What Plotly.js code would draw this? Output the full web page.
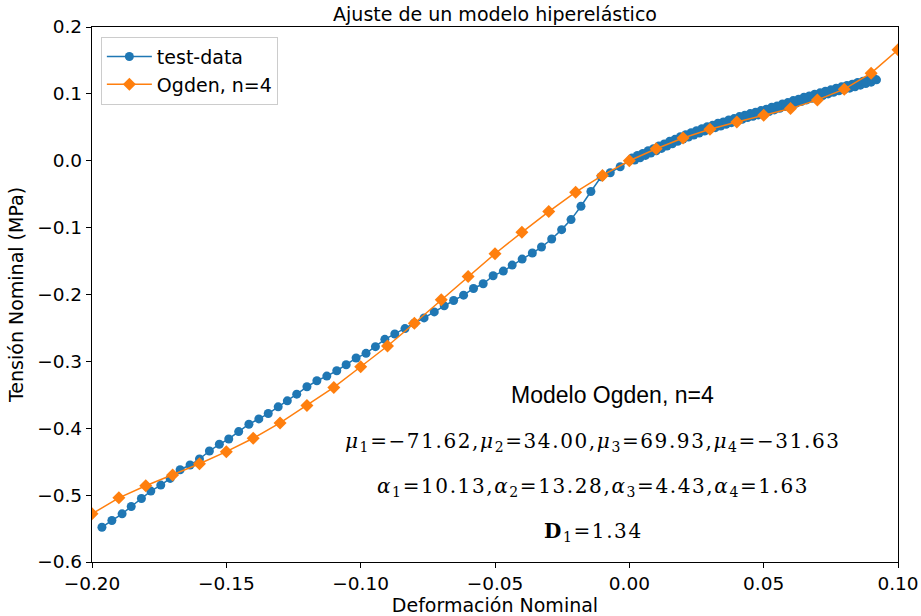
<!DOCTYPE html>
<html>
<head>
<meta charset="utf-8">
<script src="https://cdn.plot.ly/plotly-3.0.1.min.js"></script>
<style>html,body{margin:0;padding:0;background:#fff;}#chart{width:921px;height:616px;}</style>
</head>
<body>
<div id="chart"></div>
<script>
// test-data: compression branch (ascending strain)
const testCompX = [-0.1963,-0.1926,-0.1888,-0.1854,-0.1816,-0.1781,-0.1744,-0.1709,-0.1672,-0.1635,
  -0.1600,-0.1563,-0.1526,-0.1491,-0.1454,-0.1416,-0.1379,-0.1344,-0.1307,-0.1273,
  -0.1238,-0.1200,-0.1163,-0.1126,-0.1089,-0.1054,-0.1017,-0.0980,-0.0945,-0.0910,
  -0.0873,-0.0835,-0.0801,-0.0764,-0.0726,-0.0689,-0.0654,-0.0617,-0.0580,-0.0544,
  -0.0507,-0.0469,-0.0436,-0.0399,-0.0361,-0.0327,-0.0289,-0.0252,-0.0217,-0.0180,
  -0.0143,-0.0105,-0.0071,-0.0034,0.0004];
const testCompY = [-0.548,-0.538,-0.528,-0.517,-0.505,-0.494,-0.485,-0.475,-0.462,-0.455,
  -0.446,-0.434,-0.424,-0.416,-0.405,-0.394,-0.386,-0.378,-0.368,-0.359,
  -0.349,-0.338,-0.329,-0.322,-0.314,-0.305,-0.295,-0.288,-0.278,-0.267,
  -0.259,-0.251,-0.243,-0.235,-0.226,-0.217,-0.209,-0.201,-0.191,-0.184,
  -0.172,-0.165,-0.156,-0.147,-0.138,-0.129,-0.117,-0.103,-0.088,-0.068,
  -0.046,-0.024,-0.018,-0.009,0.001];
// test-data: tension loading
const testLoadX = [0.002,0.004,0.006,0.008,0.010,0.012,0.014,0.016,0.018,0.020,0.022,0.024,
  0.026,0.028,0.030,0.032,0.034,0.036,0.038,0.040,0.042,0.044,0.046,0.048,0.050,0.052,
  0.054,0.056,0.058,0.060,0.062,0.064,0.066,0.068,0.070,0.072,0.074,0.076,0.078,0.080,
  0.082,0.084,0.086,0.088,0.090,0.092];
const testLoadY = [0.001,0.0045,0.008,0.0115,0.015,0.0185,0.022,0.0255,0.029,0.0325,0.0355,0.0385,
  0.0415,0.0445,0.047,0.0495,0.052,0.0545,0.057,0.0595,0.062,0.0645,0.0665,0.0685,0.071,0.0735,
  0.076,0.0785,0.081,0.0835,0.086,0.0885,0.091,0.0935,0.0955,0.0975,0.100,0.1025,0.1045,0.1065,
  0.1085,0.1105,0.113,0.1155,0.1175,0.121];
// test-data: tension unloading
const testUnloadX = [0.091,0.089,0.087,0.085,0.083,0.081,0.079,0.077,0.075,0.073,0.071,0.069,
  0.067,0.065,0.063,0.061,0.059,0.057,0.055,0.053,0.051,0.049,0.047,0.045,0.043,0.041,
  0.039,0.037,0.035,0.033,0.031,0.029,0.027,0.025,0.023,0.021,0.019,0.017,0.015,0.013,
  0.011,0.009,0.007,0.005,0.003,0.001];
const testUnloadY = [0.1235,0.1215,0.119,0.117,0.1145,0.1125,0.1105,0.1085,0.106,0.104,0.1015,0.0995,
  0.097,0.095,0.092,0.090,0.087,0.085,0.082,0.080,0.077,0.075,0.0725,0.0705,0.068,0.066,
  0.063,0.061,0.058,0.056,0.053,0.051,0.048,0.045,0.042,0.039,0.036,0.032,0.029,0.025,
  0.022,0.018,0.015,0.011,0.008,0.004];

// Ogden n=4 fit
const ogdenX = [-0.20,-0.19,-0.18,-0.17,-0.16,-0.15,-0.14,-0.13,-0.12,-0.11,-0.10,
  -0.09,-0.08,-0.07,-0.06,-0.05,-0.04,-0.03,-0.02,-0.01,0.00,
  0.01,0.02,0.03,0.04,0.05,0.06,0.07,0.08,0.09,0.10];
const ogdenY = [-0.528,-0.504,-0.486,-0.470,-0.453,-0.435,-0.415,-0.392,-0.366,-0.339,-0.308,
  -0.277,-0.243,-0.208,-0.173,-0.139,-0.107,-0.076,-0.047,-0.022,0.000,
  0.018,0.034,0.047,0.058,0.068,0.078,0.091,0.107,0.131,0.166];

const xTicks = [-0.20,-0.15,-0.10,-0.05,0.00,0.05,0.10];
const yTicks = [-0.6,-0.5,-0.4,-0.3,-0.2,-0.1,0.0,0.1,0.2];

const titleText = "Ajuste de un modelo hiperelástico";
const xTitle = "Deformación Nominal";
const yTitle = "Tensión Nominal (MPa)";
const seriesNames = ["test-data", "Ogden, n=4"];
const noteHeader = "Modelo Ogden, n=4";
const ls = '<span style="letter-spacing:1.6px">';
const noteLines = [
  ls + "<i>μ</i><sub>1</sub>=−71.62,<i>μ</i><sub>2</sub>=34.00,<i>μ</i><sub>3</sub>=69.93,<i>μ</i><sub>4</sub>=−31.63</span>",
  ls + "<i>α</i><sub>1</sub>=10.13,<i>α</i><sub>2</sub>=13.28,<i>α</i><sub>3</sub>=4.43,<i>α</i><sub>4</sub>=1.63</span>",
  ls + "<b>D</b><sub>1</sub>=1.34</span>"
];

const blue = "#1f77b4", orange = "#ff7f0e";
const testX = testCompX.concat(testLoadX, testUnloadX);
const testY = testCompY.concat(testLoadY, testUnloadY);

const traces = [
  {x: testX, y: testY, mode: "lines+markers", name: seriesNames[0], legendgroup: "a",
   line: {color: blue, width: 1.5}, marker: {color: blue, size: 9, symbol: "circle"}},
  {x: ogdenX, y: ogdenY, mode: "lines+markers", name: seriesNames[1], legendgroup: "b",
   line: {color: orange, width: 1.5}, marker: {color: orange, size: 10, symbol: "diamond"}}
];

const axisCommon = {
  showgrid: false, zeroline: false, showline: true, mirror: true,
  linecolor: "#000", linewidth: 1.2, ticks: "outside", ticklen: 5, tickwidth: 1,
  tickcolor: "#000", tickfont: {family: "DejaVu Sans", size: 18.5, color: "#000"}
};

const annotations = [
  {text: noteHeader, xref: "paper", yref: "paper", x: 0.646, y: 0.312,
   xanchor: "center", yanchor: "middle", showarrow: false,
   font: {family: "Liberation Sans", size: 23, color: "#000"}}
].concat(noteLines.map((t, i) => ({
  text: t, xref: "paper", yref: "paper", x: 0.622, y: [0.225, 0.141, 0.057][i],
  xanchor: "center", yanchor: "middle", showarrow: false,
  font: {family: "DejaVu Serif", size: 20, color: "#000"}
})));

const layout = {
  width: 921, height: 616,
  margin: {l: 92, r: 23, t: 27, b: 54},
  paper_bgcolor: "#fff", plot_bgcolor: "#fff",
  title: {text: titleText, x: 0.5375, xanchor: "center", y: 0.977, yanchor: "middle",
          font: {family: "DejaVu Sans", size: 19, color: "#000"}},
  xaxis: Object.assign({}, axisCommon, {
    range: [-0.2, 0.1], tickvals: xTicks, tickformat: ".2f",
    title: {text: xTitle, standoff: 2, font: {family: "DejaVu Sans", size: 19, color: "#000"}}
  }),
  yaxis: Object.assign({}, axisCommon, {
    range: [-0.6, 0.2], tickvals: yTicks, tickformat: ".1f",
    title: {text: yTitle, standoff: 8, font: {family: "DejaVu Sans", size: 19, color: "#000"}}
  }),
  showlegend: true,
  legend: {x: 0.011, y: 0.982, xanchor: "left", yanchor: "top", traceorder: "grouped",
           bgcolor: "rgba(255,255,255,0.8)", bordercolor: "#ccc", borderwidth: 1,
           font: {family: "DejaVu Sans", size: 19, color: "#000"}, tracegroupgap: 0, itemwidth: 45},
  annotations: annotations
};

Plotly.newPlot("chart", traces, layout, {displayModeBar: false, staticPlot: true});
</script>
</body>
</html>
